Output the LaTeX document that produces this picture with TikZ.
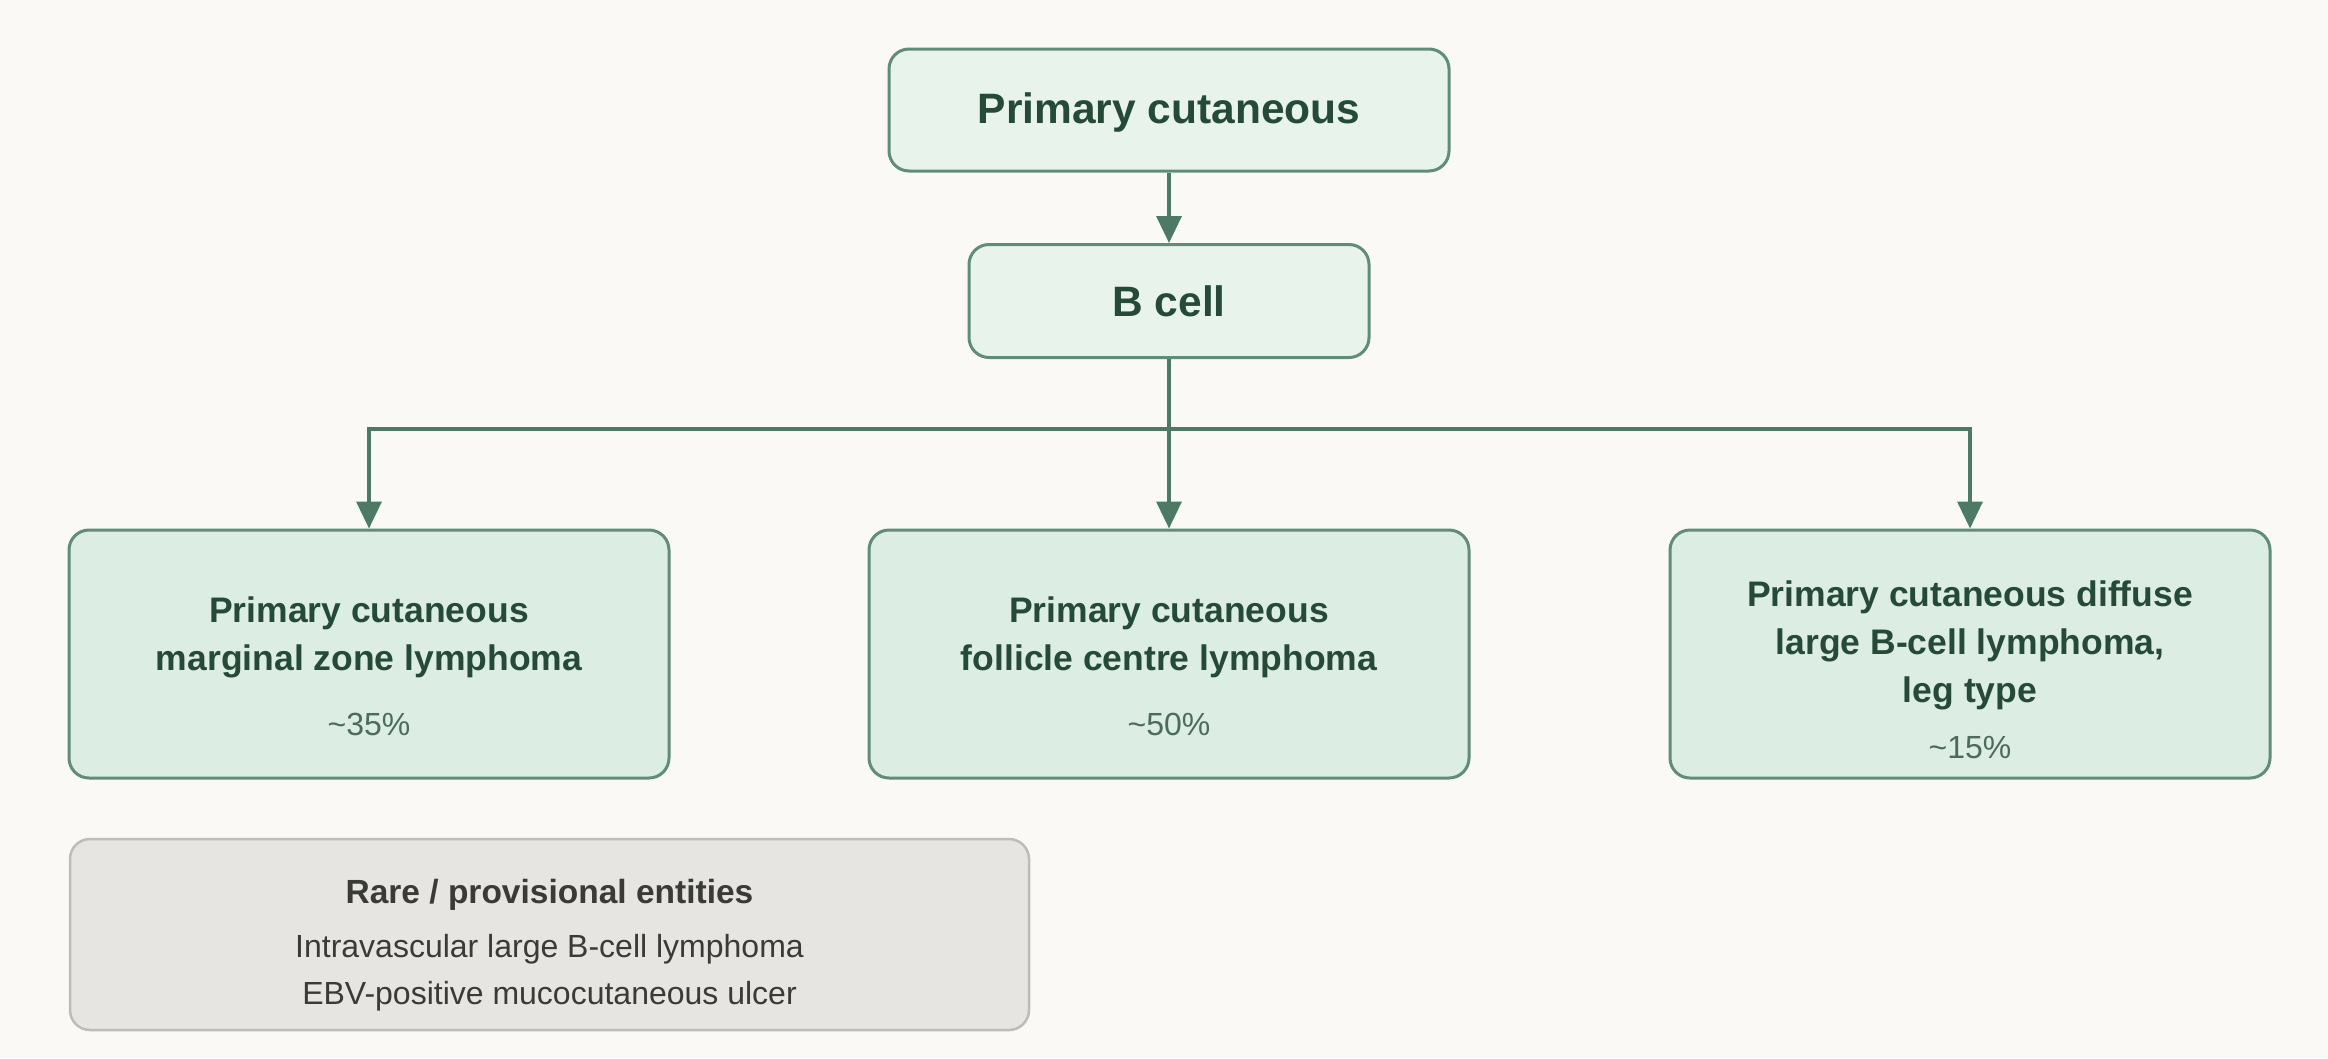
\documentclass[tikz,border=0pt]{standalone}
\usepackage{fontspec}
\setmainfont{Liberation Sans}
\usetikzlibrary{arrows.meta}

\definecolor{bgcol}{HTML}{FAF9F5}
\definecolor{headfill}{HTML}{E7F3EB}
\definecolor{leaffill}{HTML}{DCEDE4}
\definecolor{boxline}{HTML}{5F8D77}
\definecolor{linkcol}{HTML}{4D7A65}
\definecolor{ttltext}{HTML}{264A38}
\definecolor{pcttext}{HTML}{4C6B5B}
\definecolor{rarefill}{HTML}{E6E5E1}
\definecolor{rareline}{HTML}{BDBCB7}
\definecolor{raretext}{HTML}{3A3A37}

\begin{document}
\begin{tikzpicture}[x=1pt,y=-1pt,
  box/.style={draw=boxline, line width=3pt, rounded corners=20pt, inner sep=0pt},
  headbox/.style={box, fill=headfill, text=ttltext, font=\fontsize{42.5}{50}\selectfont\bfseries},
  leafbox/.style={box, fill=leaffill, minimum width=600pt, minimum height=248pt},
  ttl/.style={text=ttltext, font=\fontsize{35.5}{48}\selectfont\bfseries, align=center},
  pct/.style={text=pcttext, font=\fontsize{32}{38}\selectfont},
  wire/.style={draw=linkcol, line width=3.5pt},
  link/.style={wire, -{Triangle[length=27pt,width=25pt]}}]
\fill [bgcol] (0,0) rectangle (2328,1058);
% header boxes
\node [headbox, text height=34pt, text depth=6.4pt, minimum width=560pt, minimum height=122pt] (prim) at (1169,110) {Primary cutaneous};
\node [headbox, minimum width=400pt, minimum height=113pt] (bcell) at (1169,301) {B cell};
% the three entities
\node [leafbox] (mzl) at (369,654) {};
\node [leafbox] (fcl) at (1169,654) {};
\node [leafbox] (dlb) at (1970,654) {};
\node [ttl] (mzlname) at ([yshift=17pt]mzl.center) {Primary cutaneous\\marginal zone lymphoma};
\node [pct] (mzlpct) at ([yshift=-70pt]mzl.center) {\textasciitilde35\%};
\node [ttl] (fclname) at ([yshift=17pt]fcl.center) {Primary cutaneous\\follicle centre lymphoma};
\node [pct] (fclpct) at ([yshift=-70pt]fcl.center) {\textasciitilde50\%};
\node [ttl] (dlbname) at ([yshift=8.5pt]dlb.center) {Primary cutaneous diffuse\\large B-cell lymphoma,\\leg type};
\node [pct] (dlbpct) at ([yshift=-94pt]dlb.center) {\textasciitilde15\%};
% rare ones
\node [box, draw=rareline, line width=2.5pt, fill=rarefill, minimum width=959pt, minimum height=191pt] (rare) at (549.5,934.5) {};
\node [text=raretext, font=\fontsize{33.5}{40}\selectfont\bfseries] (raretitle) at ([yshift=40pt]rare.center) {Rare / provisional entities};
\node [text=raretext, font=\fontsize{32}{47}\selectfont, align=center] (rarelist) at ([yshift=-38.5pt]rare.center) {Intravascular large B-cell lymphoma\\EBV-positive mucocutaneous ulcer};
% connectors
\coordinate (bus) at (1169,429);
\draw [link] (prim) -- (bcell);
\draw [wire] (bcell.south) -- (bus);
\draw [link] (bus) -| (mzl.north);
\draw [link] (bus) -- (fcl.north);
\draw [link] (bus) -| (dlb.north);
\end{tikzpicture}
\end{document}
